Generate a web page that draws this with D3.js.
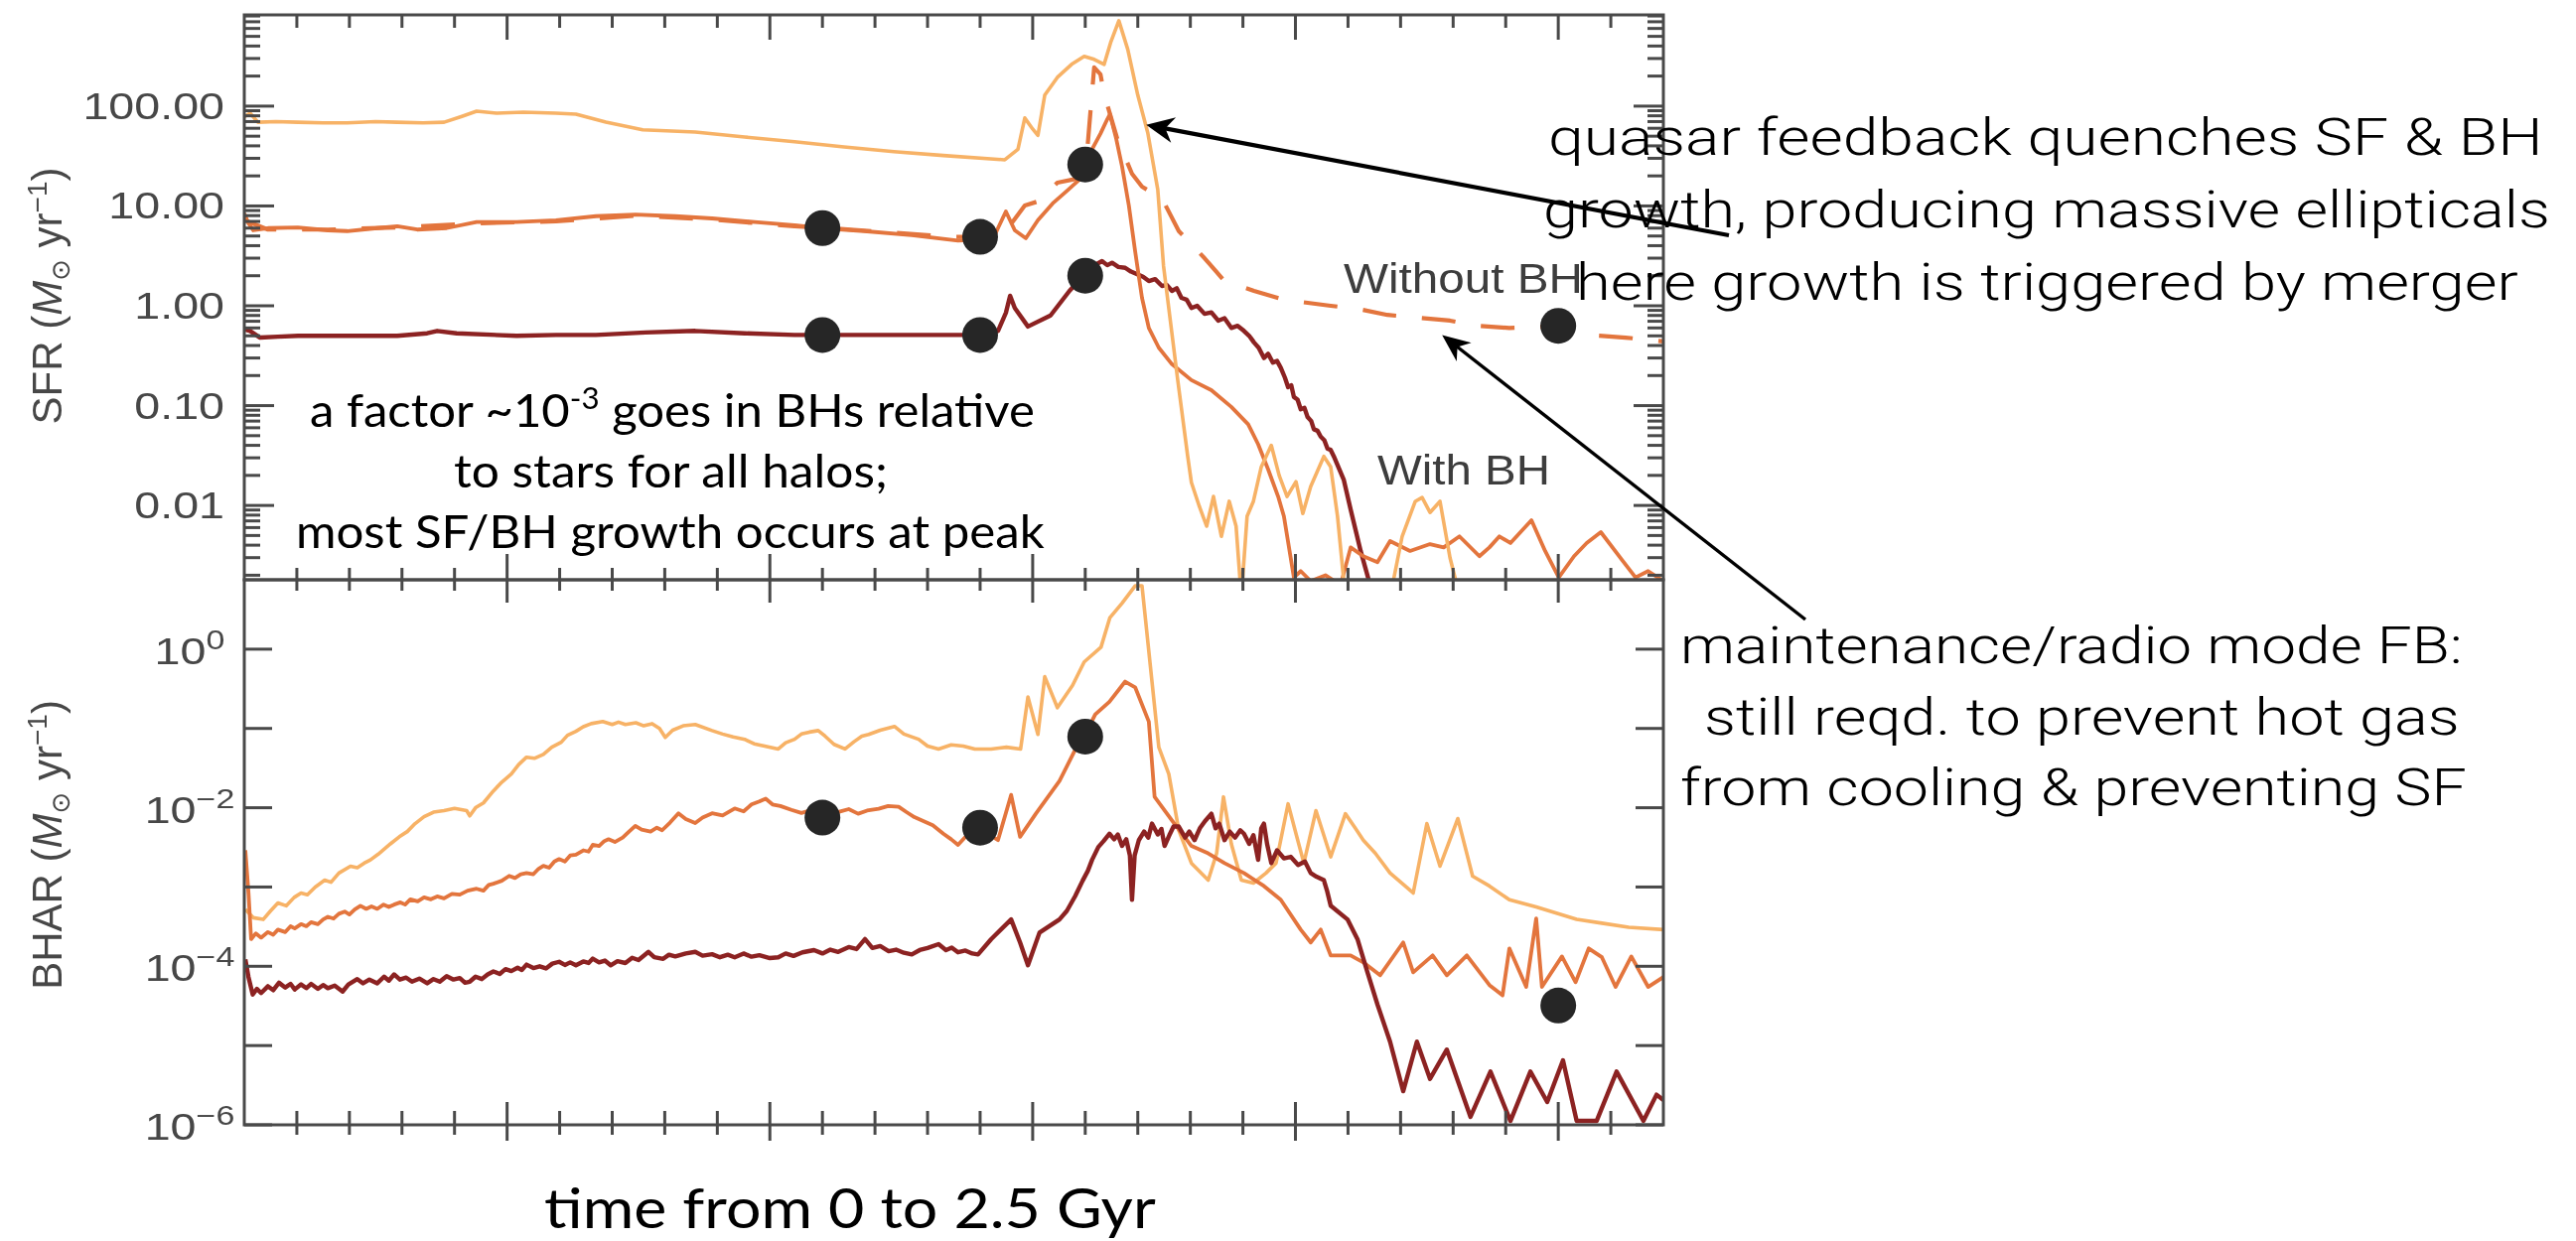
<!DOCTYPE html>
<html>
<head>
<meta charset="utf-8">
<script src="https://cdn.jsdelivr.net/npm/d3@7"></script>
<style>
  html, body { margin: 0; padding: 0; background: #fff; }
  svg { display: block; }
</style>
</head>
<body>
<svg id="chart" width="2594" height="1250"></svg>
<script>
// ---------- axes ----------
const timeDomain = [0, 2.7];          // Gyr
const sfrDomain = [1.8e-3, 820];      // Msun / yr
const bharDomain = [1e-6, 7.5];       // Msun / yr
const sfrTickValues = [100, 10, 1, 0.1, 0.01];
const sfrTickLabels = ["100.00", "10.00", "1.00", "0.10", "0.01"];
const bharTickExponents = [0, -2, -4, -6];

// ---------- star formation rate, [time, SFR] ----------
const sfrHigh = [
  [0,78],[0.011,85],[0.026,69],[0.06,70],[0.102,69],[0.15,68],[0.196,68],[0.25,70],[0.291,69],
  [0.34,68],[0.38,69],[0.414,79],[0.442,89],[0.48,85],[0.531,87],[0.593,85],[0.631,83],
  [0.688,69],[0.758,58],[0.858,55],[0.952,49],[1.047,44],[1.141,39],[1.236,35],[1.33,32],
  [1.447,29],[1.472,37],[1.485,76],[1.5,59],[1.51,51],[1.523,129],[1.547,194],[1.574,262],
  [1.598,315],[1.617,294],[1.636,262],[1.649,444],[1.664,717],[1.681,369],[1.7,129],[1.719,54],
  [1.738,14.6],[1.749,2.5],[1.776,0.18],[1.795,0.031],[1.802,0.017],[1.817,0.0098],[1.831,0.0062],
  [1.844,0.0123],[1.859,0.0049],[1.874,0.011],[1.887,0.0062],[1.897,0.0012],[1.908,0.0078],
  [1.92,0.011],[1.935,0.0244],[1.954,0.04],[1.969,0.02],[1.984,0.0123],[2.001,0.0173],
  [2.014,0.0083],[2.029,0.0155],[2.054,0.031],[2.067,0.0244],[2.08,0.0078],[2.095,0.0012],
  [2.18,0.0012],[2.203,0.0049],[2.228,0.011],[2.241,0.012],[2.256,0.0085],[2.275,0.011],
  [2.294,0.003],[2.313,0.0012],[2.7,0.0012]
];
const sfrMid = [
  [0,8.4],[0.008,6.7],[0.017,5.7],[0.045,6.0],[0.102,6.1],[0.159,5.7],[0.196,5.6],[0.253,6.0],
  [0.291,6.25],[0.329,5.8],[0.385,6.0],[0.442,6.9],[0.518,6.9],[0.593,7.2],[0.669,7.9],
  [0.744,8.2],[0.82,7.9],[0.89,7.5],[0.971,6.9],[1.047,6.4],[1.098,6.0],[1.179,5.6],[1.27,5.1],
  [1.358,4.5],[1.396,4.6],[1.425,4.75],[1.449,8.8],[1.466,5.7],[1.487,4.75],[1.51,7.2],
  [1.538,10.6],[1.566,14.3],[1.591,18.8],[1.598,26.5],[1.613,37],[1.629,53],[1.642,74],
  [1.647,83],[1.659,47],[1.67,25],[1.683,10.1],[1.695,3.5],[1.708,1.2],[1.721,0.6],[1.74,0.38],
  [1.765,0.26],[1.802,0.18],[1.84,0.143],[1.878,0.097],[1.91,0.065],[1.929,0.041],[1.948,0.023],
  [1.967,0.0123],[1.978,0.0078],[1.997,0.0019],[2.01,0.0022],[2.029,0.00175],[2.057,0.002],
  [2.086,0.0016],[2.105,0.0038],[2.129,0.0031],[2.156,0.0027],[2.18,0.0044],[2.218,0.0035],
  [2.256,0.0041],[2.282,0.0038],[2.312,0.0049],[2.35,0.0031],[2.369,0.0038],[2.388,0.0049],
  [2.409,0.0042],[2.449,0.0071],[2.475,0.0035],[2.501,0.0019],[2.53,0.0031],[2.554,0.0042],
  [2.581,0.0054],[2.62,0.0029],[2.647,0.0019],[2.671,0.0022],[2.7,0.00175]
];
const sfrMidNoBH = [
  [0,7.2],[0.045,5.8],[0.159,5.8],[0.291,6.1],[0.442,6.7],[0.593,7.0],[0.744,8.0],[0.89,7.3],
  [1.047,6.25],[1.154,5.8],[1.345,4.9],[1.396,4.9],[1.425,5.2],[1.453,6.0],[1.485,10.1],
  [1.51,11.1],[1.547,17.1],[1.585,18.8],[1.604,37],[1.617,244],[1.629,208],[1.636,132],
  [1.661,47],[1.689,21],[1.708,15.6],[1.746,11.9],[1.778,5.6],[1.827,3.0],[1.865,1.77],
  [1.921,1.41],[1.978,1.15],[2.067,1.0],[2.12,0.93],[2.175,0.81],[2.233,0.76],[2.294,0.71],
  [2.345,0.63],[2.407,0.6],[2.477,0.62],[2.558,0.51],[2.628,0.48],[2.7,0.44]
];
const sfrLow = [
  [0,0.58],[0.011,0.56],[0.03,0.48],[0.064,0.49],[0.102,0.5],[0.196,0.5],[0.291,0.5],[0.348,0.53],
  [0.367,0.56],[0.404,0.53],[0.518,0.5],[0.593,0.51],[0.669,0.51],[0.763,0.54],[0.858,0.56],
  [0.952,0.53],[1.047,0.51],[1.141,0.51],[1.236,0.51],[1.358,0.51],[1.396,0.51],[1.434,0.56],
  [1.449,0.85],[1.457,1.26],[1.466,0.95],[1.491,0.62],[1.534,0.8],[1.57,1.41],[1.598,2.03],
  [1.615,2.5],[1.632,2.8],[1.642,2.55],[1.651,2.7],[1.663,2.45],[1.676,2.4],[1.687,2.2],
  [1.698,2.08],[1.71,1.95],[1.721,1.77],[1.733,1.85],[1.746,1.58],[1.755,1.62],[1.765,1.41],
  [1.774,1.5],[1.783,1.2],[1.793,1.15],[1.802,0.95],[1.813,1.0],[1.827,0.83],[1.84,0.86],
  [1.853,0.71],[1.865,0.75],[1.878,0.6],[1.89,0.63],[1.902,0.56],[1.912,0.5],[1.921,0.43],
  [1.93,0.38],[1.94,0.3],[1.948,0.33],[1.957,0.27],[1.965,0.28],[1.972,0.24],[1.98,0.19],
  [1.986,0.153],[1.992,0.16],[1.997,0.122],[2.004,0.115],[2.01,0.092],[2.017,0.095],[2.023,0.077],
  [2.03,0.07],[2.035,0.058],[2.042,0.056],[2.048,0.049],[2.055,0.045],[2.061,0.037],[2.067,0.036],
  [2.073,0.031],[2.092,0.018],[2.105,0.0091],[2.124,0.0035],[2.142,0.0016],[2.161,0.0005]
];

// ---------- black hole accretion rate, [time, BHAR] ----------
const bharHigh = [
  [0.002,5.2e-4],[0.017,4.1e-4],[0.036,3.9e-4],[0.05,5.0e-4],[0.064,6.3e-4],[0.08,5.8e-4],
  [0.095,7.4e-4],[0.108,8.4e-4],[0.12,8.0e-4],[0.135,1.0e-3],[0.153,1.22e-3],[0.165,1.15e-3],
  [0.18,1.5e-3],[0.202,1.83e-3],[0.215,1.75e-3],[0.228,2.0e-3],[0.24,2.2e-3],[0.255,2.6e-3],
  [0.278,3.5e-3],[0.295,4.3e-3],[0.31,5.0e-3],[0.325,6.3e-3],[0.342,7.7e-3],[0.36,8.8e-3],
  [0.38,9.2e-3],[0.4,9.8e-3],[0.423,9.2e-3],[0.429,7.9e-3],[0.44,1.0e-2],[0.455,1.15e-2],
  [0.474,0.0163],[0.49,0.021],[0.508,0.0266],[0.522,0.035],[0.537,0.0434],[0.552,0.042],
  [0.569,0.047],[0.585,0.058],[0.603,0.067],[0.615,0.082],[0.631,0.092],[0.645,0.105],
  [0.66,0.115],[0.682,0.122],[0.7,0.112],[0.712,0.12],[0.725,0.112],[0.745,0.118],[0.76,0.108],
  [0.776,0.115],[0.79,0.1],[0.801,0.077],[0.815,0.095],[0.835,0.108],[0.858,0.112],[0.89,0.094],
  [0.91,0.085],[0.93,0.078],[0.952,0.073],[0.97,0.064],[0.99,0.06],[1.016,0.055],[1.03,0.066],
  [1.047,0.073],[1.06,0.085],[1.075,0.09],[1.092,0.094],[1.105,0.08],[1.122,0.063],[1.143,0.055],
  [1.16,0.068],[1.175,0.08],[1.188,0.084],[1.21,0.095],[1.237,0.106],[1.255,0.085],[1.283,0.073],
  [1.3,0.06],[1.321,0.055],[1.345,0.062],[1.368,0.06],[1.39,0.055],[1.421,0.055],[1.45,0.058],
  [1.477,0.055],[1.491,0.25],[1.51,0.084],[1.523,0.45],[1.547,0.183],[1.576,0.35],[1.598,0.69],
  [1.63,1.06],[1.647,2.5],[1.67,3.8],[1.695,6.3],[1.708,6.3],[1.727,0.39],[1.74,0.058],
  [1.759,0.0266],[1.778,5.2e-3],[1.802,2.0e-3],[1.834,1.22e-3],[1.85,2.66e-3],[1.863,0.0137],
  [1.878,3.5e-3],[1.897,1.22e-3],[1.92,1.12e-3],[1.944,1.5e-3],[1.963,2.0e-3],[1.986,0.0112],
  [2.001,4.7e-3],[2.016,2.0e-3],[2.039,9.2e-3],[2.067,2.4e-3],[2.095,8.4e-3],[2.114,5.5e-3],
  [2.129,3.9e-3],[2.152,2.66e-3],[2.18,1.5e-3],[2.224,8.4e-4],[2.25,6.3e-3],[2.275,1.83e-3],
  [2.309,7.3e-3],[2.337,1.37e-3],[2.369,1.03e-3],[2.407,6.9e-4],[2.458,5.6e-4],[2.535,3.9e-4],
  [2.583,3.5e-4],[2.634,3.1e-4],[2.7,2.9e-4]
];
const bharMid = [
  [0.002,2.9e-3],[0.008,8.4e-4],[0.013,2.2e-4],[0.022,2.6e-4],[0.032,2.3e-4],[0.045,2.7e-4],
  [0.055,2.5e-4],[0.064,2.9e-4],[0.078,2.7e-4],[0.088,3.2e-4],[0.096,3.0e-4],[0.108,3.4e-4],
  [0.118,3.2e-4],[0.127,3.6e-4],[0.14,3.4e-4],[0.15,3.9e-4],[0.159,4.2e-4],[0.17,4.0e-4],
  [0.18,4.6e-4],[0.191,4.9e-4],[0.2,4.5e-4],[0.21,5.2e-4],[0.221,5.8e-4],[0.232,5.3e-4],
  [0.242,5.7e-4],[0.253,5.3e-4],[0.265,6.0e-4],[0.275,5.6e-4],[0.285,6.0e-4],[0.297,6.4e-4],
  [0.306,6.0e-4],[0.316,7.0e-4],[0.33,6.6e-4],[0.342,7.4e-4],[0.355,7.0e-4],[0.367,7.6e-4],
  [0.38,7.2e-4],[0.395,8.2e-4],[0.41,8.0e-4],[0.425,9.0e-4],[0.442,9.5e-4],[0.455,9.0e-4],
  [0.465,1.06e-3],[0.474,1.1e-3],[0.49,1.2e-3],[0.504,1.38e-3],[0.515,1.3e-3],[0.526,1.45e-3],
  [0.537,1.5e-3],[0.55,1.45e-3],[0.56,1.7e-3],[0.569,1.85e-3],[0.58,1.75e-3],[0.59,2.1e-3],
  [0.599,2.25e-3],[0.61,2.1e-3],[0.62,2.5e-3],[0.631,2.55e-3],[0.645,2.9e-3],[0.655,2.8e-3],
  [0.663,3.4e-3],[0.675,3.3e-3],[0.685,3.8e-3],[0.693,4.0e-3],[0.705,3.7e-3],[0.72,4.2e-3],
  [0.732,5.0e-3],[0.744,5.9e-3],[0.756,5.3e-3],[0.773,5.0e-3],[0.785,5.6e-3],[0.795,5.2e-3],
  [0.81,6.5e-3],[0.826,8.5e-3],[0.84,7.2e-3],[0.858,6.4e-3],[0.872,7.5e-3],[0.89,8.5e-3],
  [0.91,8.0e-3],[0.933,9.8e-3],[0.95,9.0e-3],[0.965,1.1e-2],[0.98,1.2e-2],[0.992,1.3e-2],
  [1.005,1.1e-2],[1.02,1.05e-2],[1.041,9.4e-3],[1.06,8.6e-3],[1.075,9.2e-3],[1.098,7.5e-3],
  [1.115,8.2e-3],[1.132,8.9e-3],[1.15,9.6e-3],[1.168,8.4e-3],[1.185,9.2e-3],[1.207,9.7e-3],
  [1.225,1.05e-2],[1.245,1.03e-2],[1.26,8.8e-3],[1.275,7.6e-3],[1.294,6.7e-3],[1.31,6.0e-3],
  [1.33,4.7e-3],[1.345,4.0e-3],[1.358,3.4e-3],[1.375,4.5e-3],[1.396,5.6e-3],[1.434,3.9e-3],
  [1.459,0.0145],[1.476,4.3e-3],[1.506,8.4e-3],[1.551,0.0217],[1.589,0.069],[1.598,0.079],
  [1.619,0.15],[1.646,0.217],[1.676,0.39],[1.695,0.33],[1.721,0.122],[1.732,0.0137],[1.765,6.9e-3],
  [1.802,3.3e-3],[1.834,2.66e-3],[1.865,2.0e-3],[1.902,1.5e-3],[1.94,1.03e-3],[1.972,6.9e-4],
  [2.01,2.9e-4],[2.029,2.0e-4],[2.048,2.9e-4],[2.067,1.37e-4],[2.105,1.37e-4],[2.129,1.12e-4],
  [2.161,7.7e-5],[2.205,2.0e-4],[2.224,8.4e-5],[2.261,1.37e-4],[2.288,7.7e-5],[2.326,1.37e-4],
  [2.369,5.8e-5],[2.394,4.3e-5],[2.407,1.68e-4],[2.439,5.5e-5],[2.458,4.0e-4],[2.469,5.5e-5],
  [2.507,1.33e-4],[2.533,6.3e-5],[2.558,1.68e-4],[2.583,1.3e-4],[2.609,5.5e-5],[2.639,1.33e-4],
  [2.671,5.5e-5],[2.7,7.3e-5]
];
const bharLow = [
  [0.002,1.22e-4],[0.008,7.3e-5],[0.016,4.4e-5],[0.024,5.2e-5],[0.032,4.6e-5],[0.045,5.6e-5],
  [0.055,5.0e-5],[0.066,6.2e-5],[0.078,5.4e-5],[0.088,6.0e-5],[0.096,5.1e-5],[0.108,5.9e-5],
  [0.118,5.3e-5],[0.127,6.0e-5],[0.14,5.2e-5],[0.15,5.8e-5],[0.159,5.3e-5],[0.172,5.7e-5],
  [0.187,4.8e-5],[0.198,5.9e-5],[0.215,6.9e-5],[0.226,6.1e-5],[0.238,6.8e-5],[0.253,6.1e-5],
  [0.266,7.4e-5],[0.275,6.6e-5],[0.285,7.9e-5],[0.296,6.8e-5],[0.308,7.2e-5],[0.319,6.4e-5],
  [0.333,7.0e-5],[0.348,6.1e-5],[0.36,6.9e-5],[0.372,6.4e-5],[0.385,7.5e-5],[0.398,6.8e-5],
  [0.41,7.1e-5],[0.42,6.2e-5],[0.429,6.4e-5],[0.44,7.4e-5],[0.452,6.9e-5],[0.463,7.9e-5],
  [0.474,8.6e-5],[0.486,8.0e-5],[0.497,9.2e-5],[0.508,8.7e-5],[0.52,9.6e-5],[0.528,9.0e-5],
  [0.537,1.05e-4],[0.55,9.5e-5],[0.562,1.0e-4],[0.574,9.4e-5],[0.586,1.08e-4],[0.599,1.14e-4],
  [0.61,1.04e-4],[0.62,1.12e-4],[0.631,1.03e-4],[0.645,1.15e-4],[0.655,1.1e-4],[0.663,1.25e-4],
  [0.675,1.12e-4],[0.686,1.18e-4],[0.697,1.03e-4],[0.71,1.16e-4],[0.725,1.1e-4],[0.738,1.28e-4],
  [0.75,1.2e-4],[0.769,1.52e-4],[0.78,1.3e-4],[0.797,1.24e-4],[0.808,1.4e-4],[0.82,1.33e-4],
  [0.84,1.45e-4],[0.858,1.52e-4],[0.872,1.36e-4],[0.89,1.42e-4],[0.905,1.3e-4],[0.92,1.4e-4],
  [0.933,1.3e-4],[0.95,1.45e-4],[0.965,1.32e-4],[0.98,1.38e-4],[1.0,1.27e-4],[1.016,1.3e-4],
  [1.03,1.45e-4],[1.045,1.35e-4],[1.062,1.5e-4],[1.084,1.6e-4],[1.1,1.45e-4],[1.115,1.62e-4],
  [1.13,1.52e-4],[1.15,1.75e-4],[1.165,1.65e-4],[1.181,2.2e-4],[1.195,1.7e-4],[1.21,1.8e-4],
  [1.226,1.55e-4],[1.24,1.62e-4],[1.255,1.48e-4],[1.27,1.41e-4],[1.285,1.6e-4],[1.3,1.7e-4],
  [1.321,1.9e-4],[1.335,1.6e-4],[1.346,1.72e-4],[1.358,1.5e-4],[1.372,1.58e-4],[1.385,1.45e-4],
  [1.396,1.41e-4],[1.421,2.2e-4],[1.459,3.9e-4],[1.476,2.0e-4],[1.491,1.03e-4],[1.513,2.66e-4],
  [1.551,3.9e-4],[1.565,5.0e-4],[1.581,7.7e-4],[1.595,1.2e-3],[1.605,1.6e-3],[1.613,2.2e-3],
  [1.625,3.2e-3],[1.635,3.8e-3],[1.646,4.7e-3],[1.655,4.0e-3],[1.662,4.6e-3],[1.67,3.3e-3],
  [1.678,4.0e-3],[1.685,2.5e-3],[1.689,6.9e-4],[1.694,2.5e-3],[1.702,3.9e-3],[1.712,5.0e-3],
  [1.72,4.2e-3],[1.727,6.3e-3],[1.738,4.6e-3],[1.745,5.4e-3],[1.751,3.3e-3],[1.76,4.5e-3],
  [1.768,5.8e-3],[1.778,5.8e-3],[1.79,4.2e-3],[1.798,5.0e-3],[1.808,3.9e-3],[1.818,5.5e-3],
  [1.828,6.8e-3],[1.84,8.4e-3],[1.848,5.5e-3],[1.855,6.3e-3],[1.865,3.9e-3],[1.875,5.0e-3],
  [1.885,4.2e-3],[1.895,5.2e-3],[1.902,4.7e-3],[1.912,3.5e-3],[1.92,4.5e-3],[1.929,2.2e-3],
  [1.935,5.5e-3],[1.94,6.3e-3],[1.946,3.5e-3],[1.954,2.0e-3],[1.965,2.9e-3],[1.978,2.3e-3],
  [1.991,2.4e-3],[2.005,1.9e-3],[2.018,2.1e-3],[2.029,1.5e-3],[2.04,1.35e-3],[2.054,1.22e-3],
  [2.06,9e-4],[2.067,5.8e-4],[2.099,3.9e-4],[2.118,2.2e-4],[2.137,8.4e-5],[2.156,3.3e-5],
  [2.18,1.12e-5],[2.205,2.66e-6],[2.231,1.12e-5],[2.256,3.8e-6],[2.288,8.9e-6],[2.333,1.26e-6],
  [2.371,4.7e-6],[2.409,1.12e-6],[2.447,4.7e-6],[2.479,1.94e-6],[2.509,6.5e-6],[2.535,1.12e-6],
  [2.573,1.12e-6],[2.611,4.7e-6],[2.662,1.12e-6],[2.687,2.4e-6],[2.7,2.05e-6]
];

// ---------- marked epochs ----------
const sfrDots = [[1.1,6.0],[1.4,4.9],[1.6,26],[1.1,0.51],[1.4,0.51],[1.6,2.0],[2.5,0.63]];
const bharDots = [[1.1,7.5e-3],[1.4,5.6e-3],[1.6,0.079],[2.5,3.2e-5]];

// ---------- colours ----------
const colHigh = "#f7b266", colMid = "#e3743d", colLow = "#8c2420";
const axisCol = "#4a4a4a", labelCol = "#474747";

// ---------- layout ----------
const X0 = 246, X1 = 1675, YT = 15, YM = 584, YB = 1133;
const x = d3.scaleLinear().domain(timeDomain).range([X0, X1]);
const ySfr = d3.scaleLog().domain(sfrDomain).range([YM, YT]);
const yBhar = d3.scaleLog().domain(bharDomain).range([YB, YM]);

const svg = d3.select("#chart");
const defs = svg.append("defs");
defs.append("filter").attr("id", "soft").attr("x", "-5%").attr("y", "-5%").attr("width", "110%").attr("height", "110%")
  .append("feGaussianBlur").attr("stdDeviation", 0.7);
defs.append("clipPath").attr("id", "clipTop").append("rect")
  .attr("x", X0).attr("y", YT).attr("width", X1 - X0).attr("height", YM - YT);
defs.append("clipPath").attr("id", "clipBottom").append("rect")
  .attr("x", X0).attr("y", YM).attr("width", X1 - X0).attr("height", YB - YM);

const plot = svg.append("g").attr("filter", "url(#soft)");

// ---------- curves ----------
function drawSeries(panel, yScale, clip, data, color, width, dash) {
  const line = d3.line().x(d => x(d[0])).y(d => yScale(d[1]));
  panel.append("path")
    .datum(data)
    .attr("clip-path", `url(#${clip})`)
    .attr("d", line)
    .attr("fill", "none")
    .attr("stroke", color)
    .attr("stroke-width", width)
    .attr("stroke-linejoin", "round")
    .attr("stroke-dasharray", dash || null);
}
const topG = plot.append("g");
drawSeries(topG, ySfr, "clipTop", sfrLow, colLow, 4.4);
drawSeries(topG, ySfr, "clipTop", sfrMidNoBH, colMid, 4.2, "34 26");
drawSeries(topG, ySfr, "clipTop", sfrMid, colMid, 3.8);
drawSeries(topG, ySfr, "clipTop", sfrHigh, colHigh, 3.6);

const botG = plot.append("g");
drawSeries(botG, yBhar, "clipBottom", bharHigh, colHigh, 3.6);
drawSeries(botG, yBhar, "clipBottom", bharMid, colMid, 3.8);
drawSeries(botG, yBhar, "clipBottom", bharLow, colLow, 4.4);

// ---------- frames and ticks ----------
const frame = plot.append("g").attr("stroke", axisCol).attr("stroke-width", 3).attr("fill", "none");
frame.append("rect").attr("x", X0).attr("y", YT).attr("width", X1 - X0).attr("height", YM - YT);
frame.append("rect").attr("x", X0).attr("y", YM).attr("width", X1 - X0).attr("height", YB - YM);

const timeTicks = d3.range(1, 27).map(i => ({ t: i / 10, major: i % 5 === 0 }));
function timeTickRow(y0, upMinor, upMajor, downMinor, downMajor) {
  frame.selectAll(null).data(timeTicks).join("line")
    .attr("x1", d => x(d.t)).attr("x2", d => x(d.t))
    .attr("y1", d => y0 - (d.major ? upMajor : upMinor))
    .attr("y2", d => y0 + (d.major ? downMajor : downMinor));
}
timeTickRow(YT, 0, 0, 13, 25);
timeTickRow(YM, 12, 26, 11, 23);
timeTickRow(YB, 14, 23, 10, 16);

// log ticks of the SFR axis (decades plus 2..9 minors)
const sfrLogTicks = [];
for (let e = -3; e <= 2; e++) {
  for (let m = 1; m <= 9; m++) {
    const v = m * Math.pow(10, e);
    if (v >= sfrDomain[0] && v <= sfrDomain[1]) sfrLogTicks.push({ v, major: m === 1 });
  }
}
function sfrTickCol(xAxis, dir) {
  frame.selectAll(null).data(sfrLogTicks).join("line")
    .attr("y1", d => ySfr(d.v)).attr("y2", d => ySfr(d.v))
    .attr("x1", xAxis).attr("x2", d => xAxis + dir * (d.major ? 30 : 16));
}
sfrTickCol(X0, 1);
sfrTickCol(X1, -1);

const bharDecades = d3.range(0, -7, -1).map(e => Math.pow(10, e));
function bharTickCol(xAxis, dir) {
  frame.selectAll(null).data(bharDecades).join("line")
    .attr("y1", d => yBhar(d)).attr("y2", d => yBhar(d))
    .attr("x1", xAxis).attr("x2", xAxis + dir * 28);
}
bharTickCol(X0, 1);
bharTickCol(X1, -1);

// ---------- tick labels ----------
const labelFont = "'Liberation Sans', Arial, Helvetica, sans-serif";
const stretch = 1.26;
const sfrLab = plot.append("g").attr("font-family", labelFont).attr("font-size", 37).attr("fill", labelCol);
sfrTickValues.forEach((v, i) => {
  sfrLab.append("g")
    .attr("transform", `translate(226,${ySfr(v) + 13}) scale(${stretch},1)`)
    .append("text").attr("text-anchor", "end").text(sfrTickLabels[i]);
});
const bharLab = plot.append("g").attr("font-family", labelFont).attr("font-size", 37).attr("fill", labelCol);
bharTickExponents.forEach(e => {
  const t = bharLab.append("g")
    .attr("transform", `translate(191,${yBhar(Math.pow(10, e)) + 15}) scale(${stretch},1)`)
    .append("text").attr("text-anchor", "middle");
  t.append("tspan").text("10");
  t.append("tspan").attr("font-size", 27).attr("dy", -15).text(e === 0 ? "0" : "\u2212" + (-e));
});

// ---------- axis titles ----------
function axisTitle(name, cx, cy) {
  const t = plot.append("text")
    .attr("transform", `translate(${cx},${cy}) rotate(-90)`)
    .attr("text-anchor", "middle")
    .attr("font-family", labelFont + ", 'DejaVu Sans'")
    .attr("font-size", 42).attr("fill", labelCol);
  t.append("tspan").text(name + " (");
  t.append("tspan").attr("font-style", "italic").text("M");
  t.append("tspan").attr("font-size", 26).attr("dy", 8).attr("font-family", "'DejaVu Sans'").text("\u2299");
  t.append("tspan").attr("dy", -8).text(" yr");
  t.append("tspan").attr("font-size", 28).attr("dy", -15).text("\u22121");
  t.append("tspan").attr("dy", 15).text(")");
}
axisTitle("SFR", 62, 298);
axisTitle("BHAR", 62, 851);

// ---------- in-plot labels ----------
function fitText(parent, str, x0, x1, baseline, attrs) {
  const g = parent.append("g");
  const t = g.append("text").attr("x", 0).attr("y", baseline);
  Object.entries(attrs).forEach(([k, v]) => t.attr(k, v));
  if (typeof str === "function") str(t); else t.text(str);
  const bb = t.node().getBBox();
  const s = (x1 - x0) / bb.width;
  g.attr("transform", `translate(${x0 - bb.x * s},0) scale(${s},1)`);
  return g;
}
const plotText = { "font-family": labelFont, "font-size": 43, "fill": "#3c3c3c" };
fitText(plot, "Without BH", 1353, 1594, 295, plotText);
fitText(plot, "With BH", 1387, 1561, 488, plotText);

// ---------- marked epochs ----------
plot.append("g").selectAll("circle").data(sfrDots).join("circle")
  .attr("cx", d => x(d[0])).attr("cy", d => ySfr(d[1])).attr("r", 18).attr("fill", "#262626");
plot.append("g").selectAll("circle").data(bharDots).join("circle")
  .attr("cx", d => x(d[0])).attr("cy", d => yBhar(d[1])).attr("r", 18).attr("fill", "#262626");

// ---------- annotations ----------
const notes = svg.append("g");
const gill = { "font-family": "Lato, 'Open Sans', sans-serif", "font-size": 47, "fill": "#000" };
fitText(notes, t => {
  t.append("tspan").text("a factor ~10");
  t.append("tspan").attr("font-size", 30).attr("dy", -18).text("-3");
  t.append("tspan").attr("dy", 18).text(" goes in BHs relative");
}, 312, 1042, 430, gill);
fitText(notes, "to stars for all halos;", 457, 894, 491, gill);
fitText(notes, "most SF/BH growth occurs at peak", 298, 1052, 552, gill);
fitText(notes, "time from 0 to 2.5 Gyr", 548, 1164, 1237, Object.assign({}, gill, { "font-size": 56 }));

const light = { "font-family": "Roboto, 'Liberation Sans', sans-serif", "font-weight": 300, "font-size": 52, "fill": "#000" };
fitText(notes, "quasar feedback quenches SF & BH", 1559, 2561, 156, light);
fitText(notes, "growth, producing massive ellipticals", 1554, 2568, 229, light);
fitText(notes, "here growth is triggered by merger", 1587, 2536, 302, light);
fitText(notes, "maintenance/radio mode FB:", 1692, 2480, 668, light);
fitText(notes, "still reqd. to prevent hot gas", 1716, 2477, 740, light);
fitText(notes, "from cooling & preventing SF", 1692, 2484, 811, light);

// arrows from the notes to the curves
function arrow(x1, y1, x2, y2, w, len, half) {
  const a = Math.atan2(y2 - y1, x2 - x1), c = Math.cos(a), s = Math.sin(a);
  notes.append("line").attr("x1", x1).attr("y1", y1)
    .attr("x2", x2 - c * len * 0.6).attr("y2", y2 - s * len * 0.6)
    .attr("stroke", "#000").attr("stroke-width", w);
  const pts = [
    [x2, y2],
    [x2 - c * len - s * half, y2 - s * len + c * half],
    [x2 - c * len * 0.7, y2 - s * len * 0.7],
    [x2 - c * len + s * half, y2 - s * len - c * half]
  ];
  notes.append("polygon").attr("points", pts.map(p => p.join(",")).join(" ")).attr("fill", "#000");
}
arrow(1741, 237, x(1.716), ySfr(65), 4.2, 28, 13);
arrow(1818, 624, x(2.279), ySfr(0.51), 3.4, 28, 12);
</script>
</body>
</html>
